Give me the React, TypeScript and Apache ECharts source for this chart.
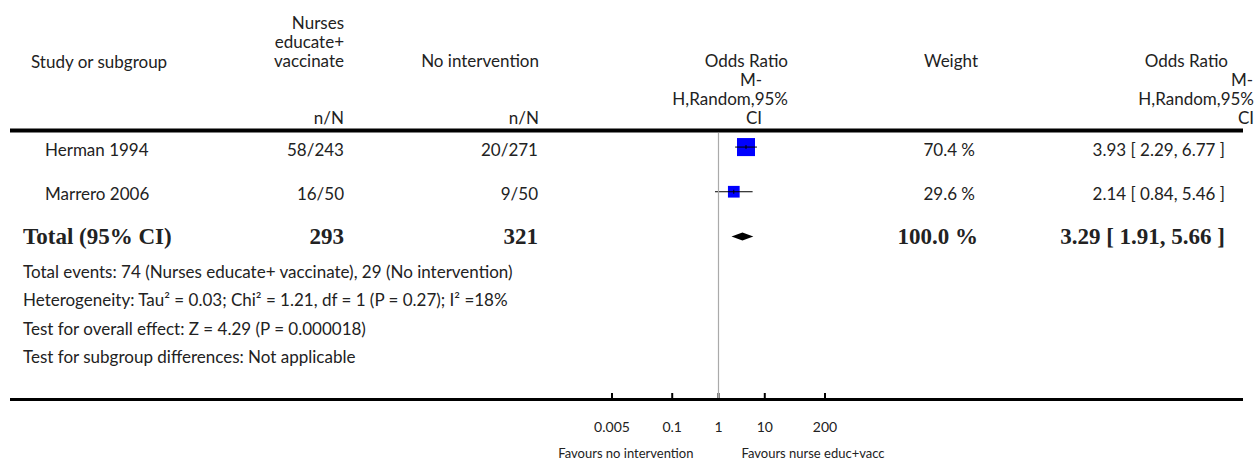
import React, { useEffect, useRef } from "react";
import * as echarts from "echarts";

// ---------- data ----------
const studyNames = ["Herman 1994", "Marrero 2006"];
const treatEvents = ["58/243", "16/50"];
const controlEvents = ["20/271", "9/50"];
const studyWeights = [70.4, 29.6];
const studyOR = [3.93, 2.14];
const studyLow = [2.29, 0.84];
const studyHigh = [6.77, 5.46];

const totalLabel = "Total (95% CI)";
const totalTreat = "293";
const totalControl = "321";
const totalWeight = 100.0;
const totalOR = 3.29;
const totalLow = 1.91;
const totalHigh = 5.66;

const footnotes = [
  "Total events: 74 (Nurses educate+ vaccinate), 29 (No intervention)",
  "Heterogeneity: Tau\u00B2 = 0.03; Chi\u00B2 = 1.21, df = 1 (P = 0.27); I\u00B2 =18%",
  "Test for overall effect: Z = 4.29 (P = 0.000018)",
  "Test for subgroup differences: Not applicable",
];

const tickValues = [0.005, 0.1, 1, 10, 200];
const tickLabels = ["0.005", "0.1", "1", "10", "200"];
const favoursLeft = "Favours no intervention";
const favoursRight = "Favours nurse educ+vacc";

// ---------- layout / style ----------
const W = 1257;
const H = 462;
const SANS = "Lato, 'Open Sans', sans-serif";
const SERIF = "'Liberation Serif', 'DejaVu Serif', serif";
const TXT = "#222";
const FS = 17;
const Y_MIN = -0.315;
const Y_MAX = 5.64;

const fmt2 = (v: number) => v.toFixed(2);
const ciText = (e: number, l: number, h: number) => `${fmt2(e)} [ ${fmt2(l)}, ${fmt2(h)} ]`;

function txt(text: string, x: number, y: number, align: string, opts: any = {}) {
  const size = opts.size || FS;
  return {
    type: "text",
    x,
    y,
    silent: true,
    style: {
      text,
      fill: TXT,
      font: `${opts.weight || "normal"} ${size}px ${opts.family || SANS}`,
      lineHeight: size,
      textAlign: align,
      textVerticalAlign: "middle",
    },
  };
}

export default function App() {
  const ref = useRef<HTMLDivElement>(null);

  useEffect(() => {
    if (!ref.current) return;
    const chart = echarts.init(ref.current, null, { renderer: "svg", width: W, height: H });

    const studyData = studyNames.map((_, i) => [studyOR[i], studyLow[i], studyHigh[i], i, studyWeights[i]]);
    const totalRow = studyNames.length;
    const totalData = [[totalOR, totalLow, totalHigh, totalRow]];
    const tickData = tickValues.map((v) => [v, Y_MAX]);

    chart.setOption({
      animation: false,
      grid: { left: 612, right: W - 825, top: 133, bottom: H - 399 },
      xAxis: {
        type: "log",
        logBase: 10,
        min: 0.005,
        max: 200,
        show: false,
      },
      yAxis: {
        type: "value",
        inverse: true,
        min: Y_MIN,
        max: Y_MAX,
        show: false,
      },
      series: [
        {
          type: "custom",
          name: "studies",
          clip: false,
          encode: { x: [0, 1, 2], y: 3 },
          data: studyData,
          renderItem: (params: any, api: any) => {
            const est = api.value(0);
            const lo = api.value(1);
            const hi = api.value(2);
            const row = api.value(3);
            const w = api.value(4);
            const pE = api.coord([est, row]);
            const pL = api.coord([lo, row]);
            const pH = api.coord([hi, row]);
            const s = 2.15 * Math.sqrt(w);
            return {
              type: "group",
              children: [
                {
                  type: "rect",
                  shape: { x: pE[0] - s / 2, y: pE[1] - s / 2, width: s, height: s },
                  style: { fill: "#0000ff" },
                },
                {
                  type: "line",
                  shape: { x1: pL[0], y1: pE[1], x2: pH[0], y2: pE[1] },
                  style: { stroke: "#000", lineWidth: 1 },
                },
                {
                  type: "line",
                  shape: { x1: pE[0], y1: pE[1] - 2, x2: pE[0], y2: pE[1] + 2 },
                  style: { stroke: "#000", lineWidth: 1 },
                },
              ],
            };
          },
          z: 3,
        },
        {
          type: "custom",
          name: "total",
          clip: false,
          encode: { x: [0, 1, 2], y: 3 },
          data: totalData,
          renderItem: (params: any, api: any) => {
            const row = api.value(3);
            const pE = api.coord([api.value(0), row]);
            const pL = api.coord([api.value(1), row]);
            const pH = api.coord([api.value(2), row]);
            const h = 4;
            return {
              type: "polygon",
              shape: {
                points: [
                  [pL[0], pE[1]],
                  [pE[0], pE[1] - h],
                  [pH[0], pE[1]],
                  [pE[0], pE[1] + h],
                ],
              },
              style: { fill: "#000" },
            };
          },
          markLine: {
            silent: true,
            symbol: "none",
            label: { show: false },
            lineStyle: { color: "#aaa", width: 1.2, type: "solid" },
            data: [{ xAxis: 1 }],
          },
          z: 3,
        },
        {
          type: "custom",
          name: "ticks",
          clip: false,
          encode: { x: 0, y: 1 },
          data: tickData,
          renderItem: (params: any, api: any) => {
            const p = api.coord([api.value(0), api.value(1)]);
            return {
              type: "group",
              children: [
                {
                  type: "rect",
                  shape: { x: p[0] - 1, y: p[1] - 6, width: 2, height: 6 },
                  style: { fill: "#000" },
                },
                {
                  type: "text",
                  x: p[0],
                  y: p[1] + 27.5,
                  style: {
                    text: tickLabels[params.dataIndex],
                    fill: TXT,
                    font: `normal 14px ${SANS}`,
                    textAlign: "center",
                    textVerticalAlign: "middle",
                  },
                },
              ],
            };
          },
          z: 4,
        },
      ],
    });

    // row positions from the y axis
    const rowY = (i: number) => chart.convertToPixel({ yAxisIndex: 0 }, i) as number;
    const oneX = chart.convertToPixel({ xAxisIndex: 0 }, 1) as number;

    const g: any[] = [];
    // rules
    g.push({
      type: "line",
      silent: true,
      shape: { x1: 10, y1: 130.5, x2: 1243, y2: 130.5 },
      style: { stroke: "#000", lineWidth: 4 },
    });
    g.push({
      type: "line",
      silent: true,
      shape: { x1: 10, y1: 399.5, x2: 1243, y2: 399.5 },
      style: { stroke: "#000", lineWidth: 3 },
      z: 10,
    });

    // header
    g.push(txt("Study or subgroup", 31, 61, "left"));
    g.push(txt("Nurses", 344, 22, "right"));
    g.push(txt("educate+", 344, 41, "right"));
    g.push(txt("vaccinate", 344, 60, "right"));
    g.push(txt("n/N", 344, 117, "right"));
    g.push(txt("No intervention", 539, 60, "right"));
    g.push(txt("n/N", 539, 117, "right"));
    g.push(txt("Odds Ratio", 788, 60, "right"));
    g.push(txt("M-", 751, 79, "center"));
    g.push(txt("H,Random,95%", 788, 98, "right"));
    g.push(txt("CI", 754, 117, "center"));
    g.push(txt("Weight", 978, 60, "right"));
    g.push(txt("Odds Ratio", 1228, 60, "right"));
    g.push(txt("M-", 1253, 79, "right"));
    g.push(txt("H,Random,95%", 1254, 98, "right"));
    g.push(txt("CI", 1254, 117, "right"));

    // study rows
    studyNames.forEach((name, i) => {
      const y = rowY(i) + 2;
      g.push(txt(name, 45, y, "left"));
      g.push(txt(treatEvents[i], 344, y, "right"));
      g.push(txt(controlEvents[i], 538, y, "right"));
      g.push(txt(`${studyWeights[i].toFixed(1)} %`, 975, y, "right"));
      g.push(txt(ciText(studyOR[i], studyLow[i], studyHigh[i]), 1225, y, "right"));
    });

    // total row
    const ty = rowY(totalRow);
    const bold = { weight: "bold", size: 23, family: SERIF };
    g.push(txt(totalLabel, 23, ty, "left", bold));
    g.push(txt(totalTreat, 344, ty, "right", bold));
    g.push(txt(totalControl, 538, ty, "right", bold));
    g.push(txt(`${totalWeight.toFixed(1)} %`, 978, ty, "right", bold));
    g.push(txt(ciText(totalOR, totalLow, totalHigh), 1225, ty, "right", bold));

    // footnotes
    footnotes.forEach((f, i) => {
      g.push(txt(f, 23, 271 + i * 28.5, "left"));
    });

    // favours labels
    g.push(txt(favoursLeft, oneX - 25, 452.5, "right", { size: 13 }));
    g.push(txt(favoursRight, oneX + 23, 452.5, "left", { size: 13 }));

    chart.setOption({ graphic: g });

    return () => chart.dispose();
  }, []);

  return (
    <div
      ref={ref}
      style={{ position: "absolute", left: 0, top: 0, width: W, height: H, background: "#fff" }}
    />
  );
}
